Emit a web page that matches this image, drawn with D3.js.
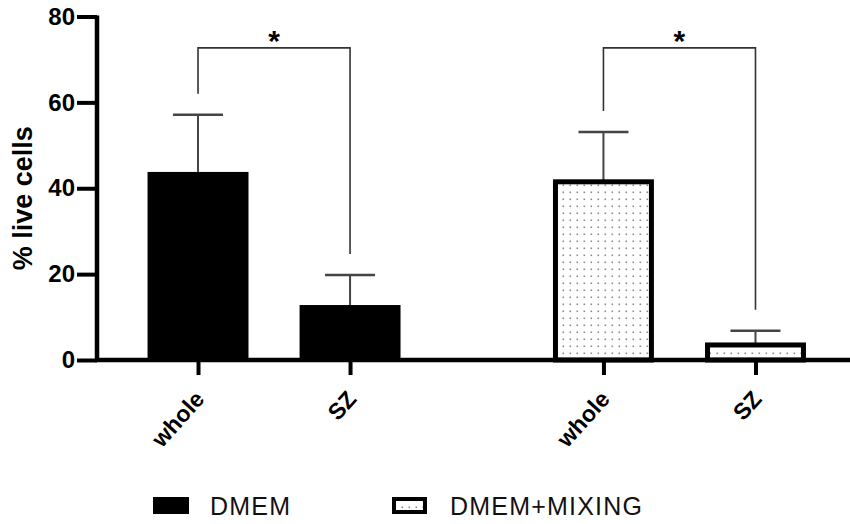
<!DOCTYPE html>
<html>
<head>
<meta charset="utf-8">
<script src="https://cdn.jsdelivr.net/npm/d3@7"></script>
<style>
  body { margin: 0; background: #fff; }
  svg { display: block; font-family: 'Liberation Sans', Arial, sans-serif; }
</style>
</head>
<body>
<svg id="chart" width="850" height="524"></svg>
<script>
// data
const groups = ['DMEM', 'DMEM+MIXING']
const subgroups = ['whole', 'SZ']
const means = [[43.8, 12.8], [41.5, 3.5]]
const sds = [[13.3, 7.0], [11.6, 3.3]]
const yTicks = [0, 20, 40, 60, 80]
const sigMarks = ['*', '*']
const bracketLevel = 72.7

const svg = d3.select('#chart')
const width = 850
const axisX = 97

const y = d3.scaleLinear().domain([0, 80]).range([360, 16.5])

// outer band per group, inner band per subgroup
const xGroup = d3.scaleBand().domain(groups).range([122, 831.5]).paddingInner(0.25)
const xSub = d3.scaleBand().domain(subgroups).range([0, xGroup.bandwidth()])
  .paddingInner(0.336).paddingOuter(0.168)

const cx = (g, s) => xGroup(g) + xSub(s) + xSub.bandwidth() / 2

// dot pattern for the mixing bars
const defs = svg.append('defs')
defs.append('pattern')
  .attr('id', 'dots')
  .attr('patternUnits', 'userSpaceOnUse')
  .attr('width', 7)
  .attr('height', 7)
  .append('rect')
  .attr('x', 2.5)
  .attr('y', 2.5)
  .attr('width', 1.6)
  .attr('height', 1.6)
  .attr('fill', '#8a8a8a')

const barData = []
groups.forEach((g, gi) => {
  subgroups.forEach((s, si) => {
    barData.push({ group: g, gi, sub: s, mean: means[gi][si], sd: sds[gi][si] })
  })
})

// error bars (drawn first so bar covers the lower half)
const err = svg.append('g').attr('class', 'errors')
  .attr('stroke', '#444')
  .attr('stroke-width', 2)
err.selectAll('.stem')
  .data(barData)
  .enter()
  .append('line')
  .attr('x1', (d) => cx(d.group, d.sub))
  .attr('x2', (d) => cx(d.group, d.sub))
  .attr('y1', (d) => y(d.mean))
  .attr('y2', (d) => y(d.mean + d.sd))
err.selectAll('.cap')
  .data(barData)
  .enter()
  .append('line')
  .attr('stroke-width', 2.5)
  .attr('x1', (d) => cx(d.group, d.sub) - 25)
  .attr('x2', (d) => cx(d.group, d.sub) + 25)
  .attr('y1', (d) => y(d.mean + d.sd))
  .attr('y2', (d) => y(d.mean + d.sd))

// bars
const bw = xSub.bandwidth()
svg.append('g').selectAll('rect')
  .data(barData)
  .enter()
  .append('rect')
  .attr('x', (d) => cx(d.group, d.sub) - bw / 2 + (d.gi ? 2.5 : 0))
  .attr('y', (d) => y(d.mean))
  .attr('width', (d) => d.gi ? bw - 5 : bw)
  .attr('height', (d) => y(0) - y(d.mean))
  .attr('fill', (d) => d.gi ? 'url(#dots)' : '#000')
  .attr('stroke', (d) => d.gi ? '#000' : 'none')
  .attr('stroke-width', 5)

// significance brackets
const br = svg.append('g').attr('class', 'brackets')
groups.forEach((g, gi) => {
  const xa = cx(g, subgroups[0])
  const xb = cx(g, subgroups[1])
  const ya = y(means[gi][0] + sds[gi][0]) - 21
  const yb = y(means[gi][1] + sds[gi][1]) - 21
  const top = y(bracketLevel)
  br.append('path')
    .attr('d', `M${xa},${ya}V${top}H${xb}V${yb}`)
    .attr('fill', 'none')
    .attr('stroke', '#333')
    .attr('stroke-width', 1.6)
  br.append('text')
    .attr('x', (xa + xb) / 2)
    .attr('y', top + 3)
    .attr('text-anchor', 'middle')
    .attr('font-size', 30)
    .attr('font-weight', 'bold')
    .text(sigMarks[gi])
})

// y axis
const yAxis = svg.append('g')
  .attr('transform', `translate(${axisX},0)`)
  .call(d3.axisLeft(y).tickValues(yTicks).tickSize(20).tickPadding(2).tickSizeOuter(0))
yAxis.select('.domain').attr('stroke-width', 4.5).attr('d', `M0,${y(80) - 1}V${y(0) + 2}`)
yAxis.selectAll('.tick line').attr('stroke-width', 4)
yAxis.selectAll('.tick text')
  .attr('font-size', 24)
  .attr('font-weight', 'bold')
  .attr('font-family', "'Liberation Sans', Arial, sans-serif")
  .attr('fill', '#000')

svg.append('text')
  .attr('transform', `translate(32, ${(y(0) + y(80)) / 2 + 10}) rotate(-90)`)
  .attr('text-anchor', 'middle')
  .attr('font-size', 27)
  .attr('font-weight', 'bold')
  .text('% live cells')

// x axis line
svg.append('line')
  .attr('x1', axisX - 2)
  .attr('x2', width)
  .attr('y1', y(0))
  .attr('y2', y(0))
  .attr('stroke', '#000')
  .attr('stroke-width', 4.5)

// x ticks and labels, one small axis per group
groups.forEach((g) => {
  const sub = d3.scalePoint().domain(subgroups)
    .range([xSub('whole') + bw / 2, xSub('SZ') + bw / 2])
  const ax = svg.append('g')
    .attr('transform', `translate(${xGroup(g)},${y(0)})`)
    .call(d3.axisBottom(sub).tickSize(15).tickSizeOuter(0))
  ax.select('.domain').remove()
  ax.selectAll('.tick line').attr('stroke-width', 4)
  ax.selectAll('.tick text')
    .attr('font-size', 23)
    .attr('font-weight', 'bold')
    .attr('font-family', "'Liberation Sans', Arial, sans-serif")
    .attr('fill', '#000')
    .attr('text-anchor', 'end')
    .attr('y', 0)
    .attr('dy', 0)
    .attr('transform', 'translate(7, 40) rotate(-48)')
})

// legend
const legendX = [153, 392]
const legend = svg.append('g').selectAll('g')
  .data(groups)
  .enter()
  .append('g')
  .attr('transform', (d, i) => `translate(${legendX[i]}, 497)`)
legend.append('rect')
  .attr('x', (d, i) => i ? 2 : 0)
  .attr('y', (d, i) => i ? 2 : 0)
  .attr('width', (d, i) => i ? 31 : 36)
  .attr('height', (d, i) => i ? 13 : 17)
  .attr('fill', (d, i) => i ? 'url(#dots)' : '#000')
  .attr('stroke', (d, i) => i ? '#000' : 'none')
  .attr('stroke-width', 4)
legend.append('text')
  .attr('x', (d, i) => i ? 58 : 57)
  .attr('y', 17.5)
  .attr('font-size', 25)
  .attr('letter-spacing', 1.2)
  .attr('fill', '#111')
  .text((d) => d)
</script>
</body>
</html>
